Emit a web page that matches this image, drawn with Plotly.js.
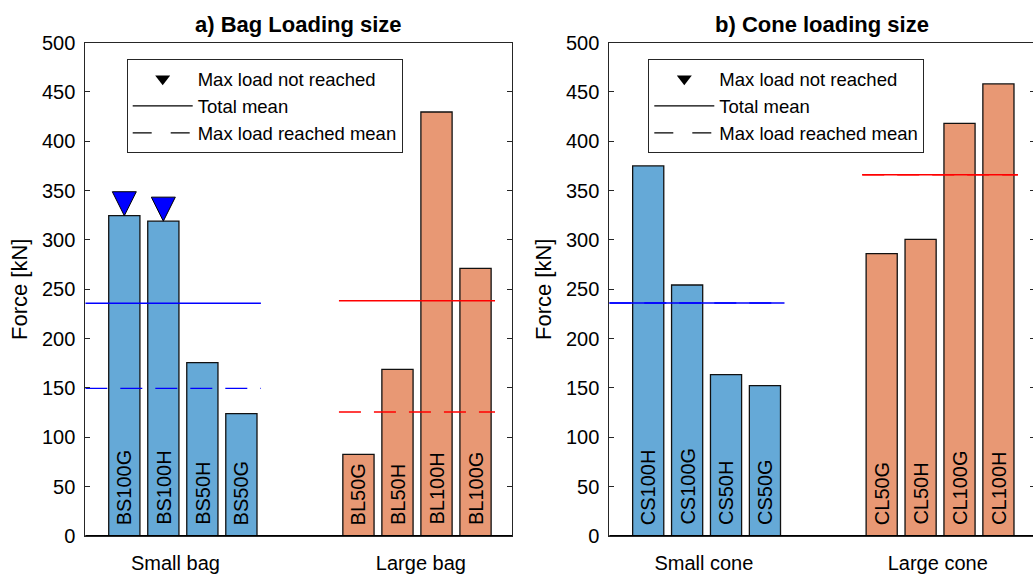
<!DOCTYPE html>
<html>
<head>
<meta charset="utf-8">
<script src="https://cdn.plot.ly/plotly-3.0.1.min.js"></script>
<style>
  html, body { margin: 0; padding: 0; overflow: hidden; background: #fff; }
  #chart { width: 1036px; height: 583px; }
</style>
</head>
<body>
<div id="chart"></div>
<script>
// ---------------- data ----------------
const bagSmallNames = ['BS100G', 'BS100H', 'BS50H', 'BS50G'];
const bagSmallForce = [324.5, 319.0, 175.6, 123.9];
const bagLargeNames = ['BL50G', 'BL50H', 'BL100H', 'BL100G'];
const bagLargeForce = [82.8, 168.9, 429.6, 271.2];
const bagGroupLabels = ['Small bag', 'Large bag'];
const bagTotalMean = [235.8, 238.4];
const bagReachedMean = [149.6, 125.6];
const bagNotReached = ['BS100G', 'BS100H'];

const coneSmallNames = ['CS100H', 'CS100G', 'CS50H', 'CS50G'];
const coneSmallForce = [374.9, 254.3, 163.4, 152.3];
const coneLargeNames = ['CL50G', 'CL50H', 'CL100G', 'CL100H'];
const coneLargeForce = [286.0, 300.6, 418.1, 458.0];
const coneGroupLabels = ['Small cone', 'Large cone'];
const coneTotalMean = [236.1, 366.0];
const coneReachedMean = [236.1, 366.0];
const coneNotReached = [];

const yTicks = [0, 50, 100, 150, 200, 250, 300, 350, 400, 450, 500];
const legendLabels = ['Max load not reached', 'Total mean', 'Max load reached mean'];
const titles = ['a) Bag Loading size', 'b) Cone loading size'];
const yTitle = 'Force [kN]';

// ---------------- layout helpers ----------------
const W = 1036, H = 583;
const FONT = 'Liberation Sans, Arial, Helvetica, sans-serif';
const BLUE = '#65A9D7', ORANGE = '#E89874';
const AXC = '#262626';
const DASH = '22px,13px';

const traces = [];
const annotations = [];
const shapes = [];

function panel(xa, ya, legendId, smallNames, smallForce, largeNames, largeForce,
               totalMean, reachedMean, notReached) {
  const smallPos = smallNames.map((_, i) => i + 1);
  const largePos = largeNames.map((_, i) => i + smallNames.length + 3);
  traces.push({
    type: 'bar', x: smallPos, y: smallForce, xaxis: xa, yaxis: ya, width: 0.8,
    marker: { color: BLUE, line: { color: '#111', width: 1.3 } },
    showlegend: false, hoverinfo: 'y'
  });
  traces.push({
    type: 'bar', x: largePos, y: largeForce, xaxis: xa, yaxis: ya, width: 0.8,
    marker: { color: ORANGE, line: { color: '#111', width: 1.3 } },
    showlegend: false, hoverinfo: 'y'
  });
  // bar labels
  const allNames = smallNames.concat(largeNames);
  const allPos = smallPos.concat(largePos);
  const allF = smallForce.concat(largeForce);
  allNames.forEach((n, i) => {
    annotations.push({
      xref: xa, yref: ya, x: allPos[i], y: 0, text: n, showarrow: false,
      textangle: -90, xanchor: 'center', yanchor: 'bottom', yshift: 9,
      font: { family: FONT, size: 20, color: '#000' }
    });
  });
  // mean lines
  const sx = [0, smallPos[smallPos.length - 1] + 0.5];
  const lx = [largePos[0] - 0.5, largePos[largePos.length - 1] + 0.5];
  [[sx, 0, 'blue'], [lx, 1, 'red']].forEach(([xs, g, c]) => {
    traces.push({ type: 'scatter', mode: 'lines', x: xs, y: [totalMean[g], totalMean[g]],
      xaxis: xa, yaxis: ya, line: { color: c, width: 1.4 }, showlegend: false, hoverinfo: 'y' });
    traces.push({ type: 'scatter', mode: 'lines', x: xs, y: [reachedMean[g], reachedMean[g]],
      xaxis: xa, yaxis: ya, line: { color: c, width: 1.4, dash: DASH }, showlegend: false, hoverinfo: 'y' });
  });
  // not-reached markers
  if (notReached.length) {
    traces.push({
      type: 'scatter', mode: 'markers', xaxis: xa, yaxis: ya,
      x: notReached.map(n => allPos[allNames.indexOf(n)]),
      y: notReached.map(n => allF[allNames.indexOf(n)]),
      marker: { symbol: 'arrow-down', size: 24, color: '#0000FF', line: { color: '#000', width: 1 } },
      showlegend: false, hoverinfo: 'y', cliponaxis: false
    });
  }
  // legend entries
  traces.push({ type: 'scatter', mode: 'markers', x: [null], y: [null], xaxis: xa, yaxis: ya,
    name: legendLabels[0], legend: legendId,
    marker: { symbol: 'triangle-down', size: 13, color: '#000' } });
  traces.push({ type: 'scatter', mode: 'lines', x: [null], y: [null], xaxis: xa, yaxis: ya,
    name: legendLabels[1], legend: legendId, line: { color: '#000', width: 1.2 } });
  traces.push({ type: 'scatter', mode: 'lines', x: [null], y: [null], xaxis: xa, yaxis: ya,
    name: legendLabels[2], legend: legendId, line: { color: '#000', width: 1.2, dash: '19px,19px' } });
  // baseline
  shapes.push({ type: 'line', xref: xa + ' domain', yref: ya, x0: 0, x1: 1, y0: 0, y1: 0,
    line: { color: '#000', width: 2 } });
}

panel('x', 'y', 'legend', bagSmallNames, bagSmallForce, bagLargeNames, bagLargeForce,
      bagTotalMean, bagReachedMean, bagNotReached);
panel('x2', 'y2', 'legend2', coneSmallNames, coneSmallForce, coneLargeNames, coneLargeForce,
      coneTotalMean, coneReachedMean, coneNotReached);

const yDom = [(H - 536) / H, (H - 42.5) / H];
function xaxis(dom, tickpos, labels) {
  return {
    domain: dom, range: [0, 10.94], showgrid: false, zeroline: false,
    showline: true, linecolor: AXC, linewidth: 1, mirror: true,
    ticks: '', tickmode: 'array', tickvals: tickpos, ticktext: labels,
    ticklabelstandoff: 9,
    tickfont: { family: FONT, size: 20, color: '#000' }, fixedrange: true
  };
}
function yaxis(anchor) {
  return {
    domain: yDom, range: [0, 500], anchor: anchor, showgrid: false, zeroline: false,
    showline: true, linecolor: AXC, linewidth: 1, mirror: 'ticks',
    ticks: 'inside', ticklen: 5, tickcolor: AXC, tickmode: 'array', tickvals: yTicks,
    ticklabelstandoff: 5,
    tickfont: { family: FONT, size: 20, color: '#000' },
    title: { text: yTitle, font: { family: FONT, size: 22, color: '#000' }, standoff: 8 },
    fixedrange: true
  };
}

const xL = [85.3 / W, 512.2 / W];
const xR = [609.3 / W, 1035 / W];

titles.forEach((t, i) => {
  annotations.push({
    xref: (i === 0 ? 'x' : 'x2') + ' domain', yref: 'paper', x: 0.5, y: 1 - 25 / H,
    xanchor: 'center', yanchor: 'middle', showarrow: false, text: '<b>' + t + '</b>',
    font: { family: FONT, size: 22, color: '#000' }
  });
});

function legendCfg(leftPx) {
  return {
    x: leftPx / W, y: 1 - 59.3 / H, xanchor: 'left', yanchor: 'top',
    bgcolor: '#fff', bordercolor: AXC, borderwidth: 1,
    font: { family: FONT, size: 18.5, color: '#000' }, itemwidth: 60,
    tracegroupgap: 0
  };
}

const layout = {
  width: W, height: H, margin: { l: 0, r: 0, t: 0, b: 0 },
  paper_bgcolor: '#fff', plot_bgcolor: '#fff',
  font: { family: FONT, color: '#000' },
  xaxis: xaxis(xL, [2.31, 8.6], bagGroupLabels),
  yaxis: yaxis('x'),
  xaxis2: xaxis(xR, [2.43, 8.44], coneGroupLabels),
  yaxis2: yaxis('x2'),
  legend: legendCfg(126.7),
  legend2: legendCfg(648.3),
  annotations: annotations,
  shapes: shapes,
  barmode: 'overlay',
  showlegend: true
};

Plotly.newPlot('chart', traces, layout, { displayModeBar: false, staticPlot: true });
</script>
</body>
</html>
